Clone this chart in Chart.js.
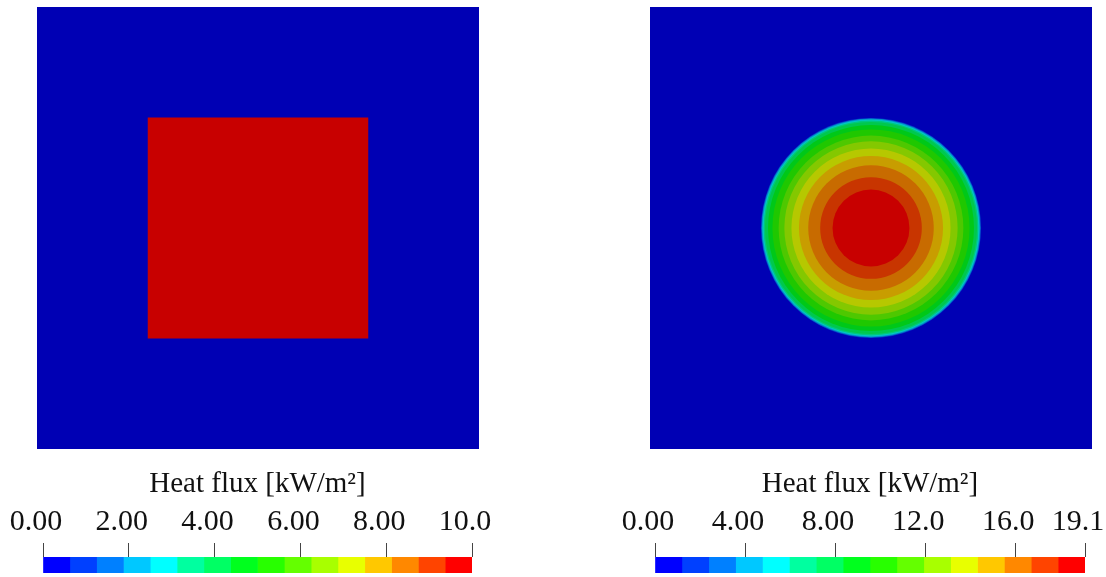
<!DOCTYPE html>
<html>
<head>
<meta charset="utf-8">
<script src="https://cdn.jsdelivr.net/npm/chart.js@4.4.1/dist/chart.umd.min.js"></script>
<style>
  html, body { margin: 0; padding: 0; background: #fff; }
  body { position: relative; width: 1106px; height: 577px; overflow: hidden; }
  .box { position: absolute; }
  canvas { display: block; }
</style>
</head>
<body>
<div class="box" style="left:37px;top:7px;"><canvas id="fieldLeft" width="442" height="442"></canvas></div>
<div class="box" style="left:650px;top:7px;"><canvas id="fieldRight" width="442" height="442"></canvas></div>
<div class="box" style="left:0px;top:460px;"><canvas id="barLeft" width="500" height="117"></canvas></div>
<div class="box" style="left:606px;top:460px;"><canvas id="barRight" width="500" height="117"></canvas></div>
<script>
// plate is the unit square [0,1] x [0,1]
const plateX = [0, 1];
const plateY = [0, 1];

// left case: uniform flux on a centred square patch
const squareX = [0.25, 0.75];
const squareY = [0.25, 0.75];
const squareFlux = 10.0;
const leftMax = 10.0;
const leftTicks = [0, 2, 4, 6, 8, 10];

// right case: radial flux, outer radius of each contour band (centre band first)
const spotCentre = { x: 0.5, y: 0.5 };
const ringRadius = [0.087, 0.115, 0.142, 0.163, 0.180, 0.196, 0.209, 0.223, 0.233, 0.240, 0.243, 0.245, 0.247, 0.248, 0.249];
const rightMax = 19.1;
const rightTicks = [0, 4, 8, 12, 16, 19.1];

// 16-band colour map (legend) and the shaded colours seen on the plates
const cmapColors = ['#0000FF', '#0040FF', '#0080FF', '#00C8FF', '#00FFFF', '#00FFA0', '#00FF64', '#00FF1E',
                    '#28FF00', '#64FF00', '#A8FF00', '#E8FF00', '#FFC800', '#FF8800', '#FF4400', '#FF0000'];
const fieldColors = ['#0000B4', '#0032C8', '#0064C8', '#009DC8', '#00C8C8', '#00C87D', '#00C84E', '#00C818',
                     '#1FC800', '#4EC800', '#84C800', '#B6C800', '#C89D00', '#C86B00', '#C83500', '#C80000'];

const serif = "'Liberation Serif', 'DejaVu Serif', serif";
const nBands = cmapColors.length;

function bandColor(v, max) {
  return fieldColors[Math.min(nBands - 1, Math.floor(v / max * nBands))];
}

function plateDataset() {
  return {
    type: 'line',
    data: [{ x: plateX[0], y: plateY[1] }, { x: plateX[1], y: plateY[1] }],
    fill: { value: plateY[0] },
    backgroundColor: bandColor(0, 1),
    borderWidth: 0,
    pointRadius: 0,
    order: 100,
  };
}

function fieldOptions() {
  return {
    responsive: false,
    animation: false,
    events: [],
    layout: { padding: 0, autoPadding: false },
    plugins: { legend: { display: false }, tooltip: { enabled: false } },
    scales: {
      x: { type: 'linear', min: plateX[0], max: plateX[1], display: false },
      y: { type: 'linear', min: plateY[0], max: plateY[1], display: false },
    },
  };
}

// left plate
new Chart(document.getElementById('fieldLeft'), {
  type: 'scatter',
  data: {
    datasets: [
      plateDataset(),
      {
        type: 'line',
        data: [{ x: squareX[0], y: squareY[1] }, { x: squareX[1], y: squareY[1] }],
        fill: { value: squareY[0] },
        backgroundColor: bandColor(squareFlux, leftMax),
        borderWidth: 0,
        pointRadius: 0,
        order: 1,
      },
    ],
  },
  options: fieldOptions(),
});

// radius given in plate units, turned into pixels by the x scale
function discRadius(c) {
  const sx = c.chart.scales.x;
  const raw = c.raw;
  if (!sx || !raw || sx.width <= 0) return 0;
  const r = sx.getPixelForValue(raw.rad) - sx.getPixelForValue(0);
  return isFinite(r) ? r : 0;
}

// right plate: one disc per contour band, smallest on top
const ringSets = ringRadius.map((rad, i) => ({
  type: 'scatter',
  showLine: false,
  clip: false,
  data: [{ x: spotCentre.x, y: spotCentre.y, rad }],
  pointBackgroundColor: fieldColors[nBands - 1 - i],
  pointBorderWidth: 0,
  pointRadius: discRadius,
  order: i,
}));

new Chart(document.getElementById('fieldRight'), {
  type: 'scatter',
  data: { datasets: [plateDataset(), ...ringSets] },
  options: fieldOptions(),
});

// colour legend bars
function colorBar(id, max, ticks, padLeft, padRight) {
  const step = max / nBands;
  const sets = cmapColors.map((col, i) => ({
    data: [[i * step, (i + 1) * step]],
    backgroundColor: col,
    borderWidth: 0,
    barPercentage: 1,
    categoryPercentage: 1,
    grouped: false,
  }));
  return new Chart(document.getElementById(id), {
    type: 'bar',
    data: { labels: [''], datasets: sets },
    options: {
      indexAxis: 'y',
      responsive: false,
      animation: false,
      events: [],
      layout: { padding: { left: padLeft, right: padRight, top: 0, bottom: 4 } },
      plugins: { legend: { display: false }, tooltip: { enabled: false } },
      scales: {
        x: {
          type: 'linear',
          position: 'top',
          min: 0,
          max: max,
          afterBuildTicks: (s) => { s.ticks = ticks.map((v) => ({ value: v })); },
          afterFit: (s) => {
            s.height = 97;
            s.paddingLeft = 0;
            s.paddingRight = 0;
          },
          ticks: {
            autoSkip: false,
            maxRotation: 0,
            padding: 3,
            labelOffset: -7,
            color: '#111',
            font: { family: serif, size: 30 },
            callback: (v) => Number(v).toPrecision(3),
          },
          grid: { drawOnChartArea: false, drawTicks: true, tickLength: 14, color: '#444', lineWidth: 1 },
          border: { display: false },
          title: {
            display: true,
            text: 'Heat flux [kW/m²]',
            color: '#111',
            font: { family: serif, size: 29 },
            padding: { top: 7, bottom: 0 },
          },
        },
        y: { type: 'category', display: false },
      },
    },
  });
}

colorBar('barLeft', leftMax, leftTicks, 43, 28);
colorBar('barRight', rightMax, rightTicks, 49, 21);
</script>
</body>
</html>
